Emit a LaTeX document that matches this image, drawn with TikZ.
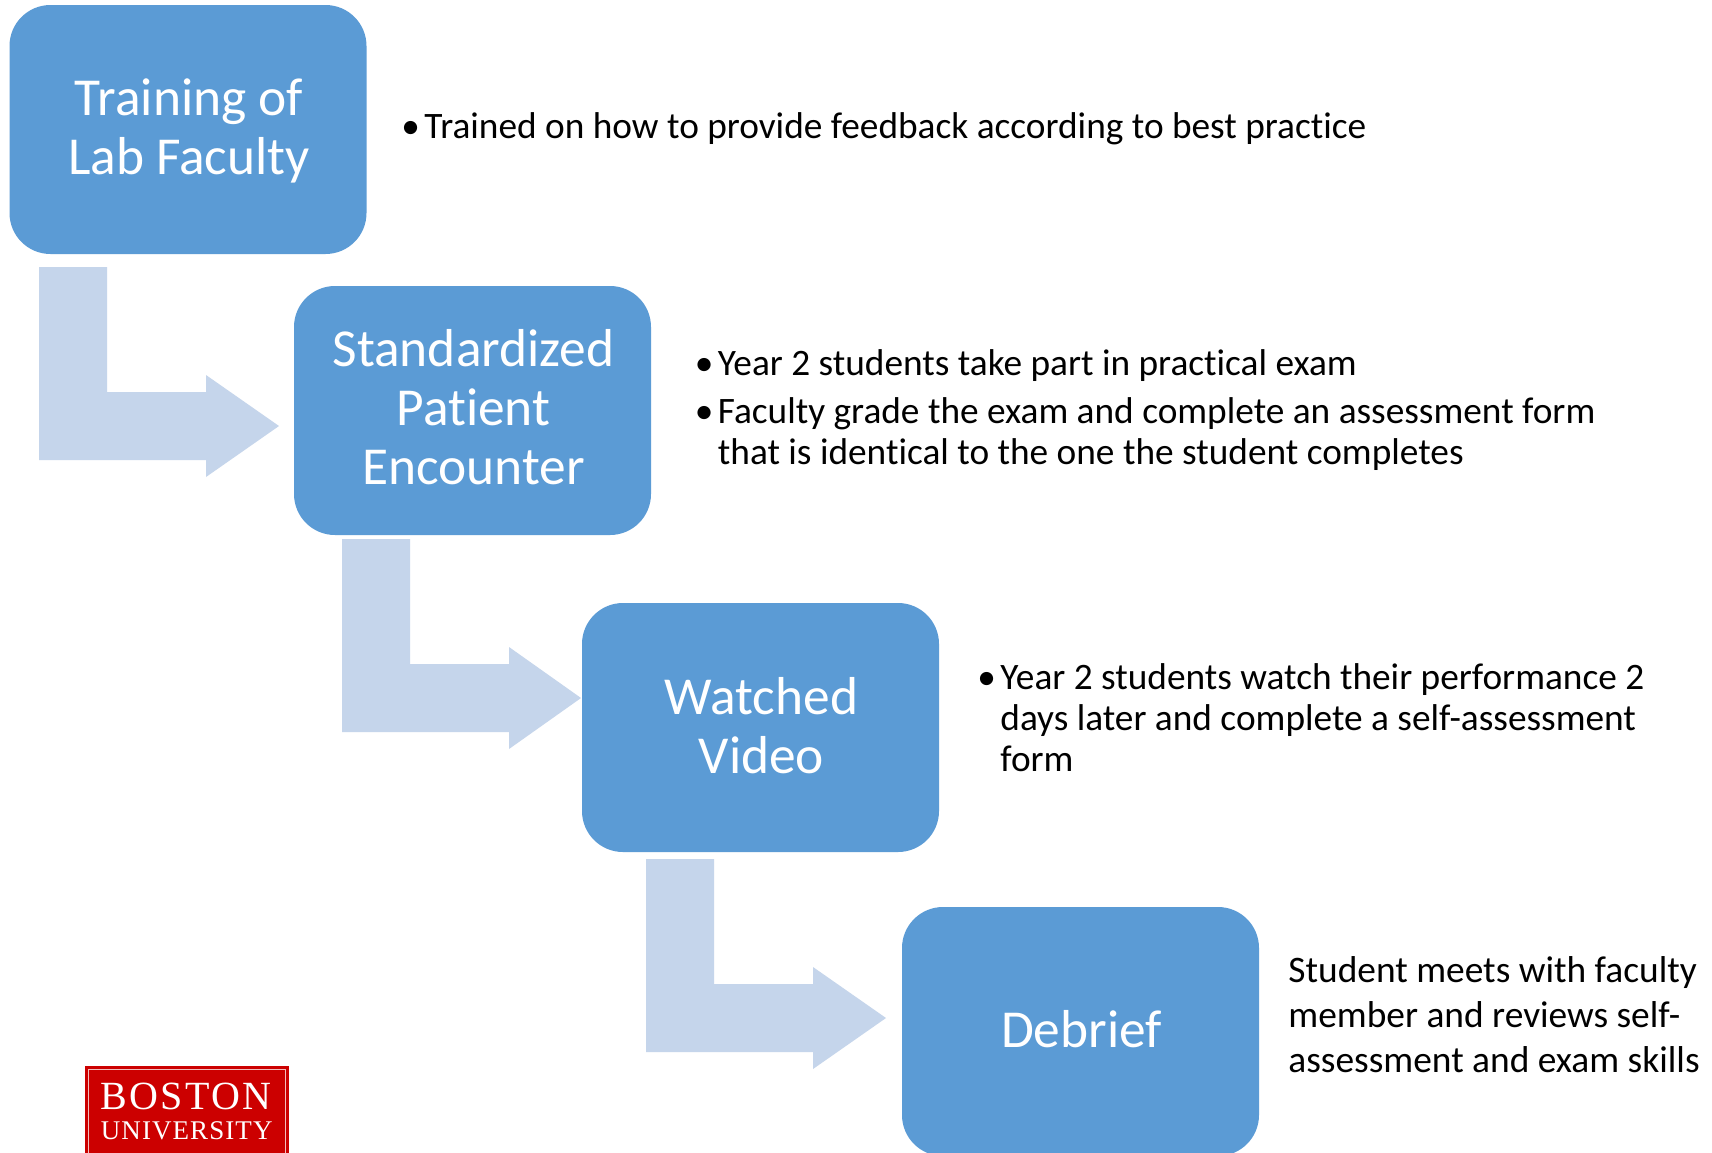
\documentclass[tikz,border=0pt]{standalone}
\usepackage{fontspec}
\setmainfont{Carlito}[Ligatures=CommonOff]
\newfontfamily\logofontA{Liberation Serif}[LetterSpace=6]
\newfontfamily\logofontB{Liberation Serif}[LetterSpace=4]
\definecolor{boxblue}{HTML}{5B9BD5}
\definecolor{arrowblue}{HTML}{C5D5EB}
\definecolor{bured}{HTML}{CC0000}
\definecolor{burule}{HTML}{F2BDBD}
\newcommand{\bl}{\makebox[11.5pt][l]{•}}
\newcommand{\blsp}{\hspace*{11.5pt}}
% last baseline placed dy below the centre of the box
\newcommand{\boxlabel}[2]{\hspace*{1pt}\raisebox{-#1}[0pt][0pt]{\begin{tabular}[b]{@{}c@{}}#2\end{tabular}}}
\tikzset{
  stagebox/.style={draw=none,fill=boxblue,rounded corners=20.5pt,minimum width=178.5pt,minimum height=124.5pt,inner sep=0pt,text=white,align=center,font=\fontsize{26.7}{29.4}\selectfont},
  bent/.style={fill=arrowblue,draw=none},
  note/.style={anchor=base west,inner sep=0pt,align=left,text=black,font=\fontsize{18.66}{20.5}\selectfont},
  notewide/.style={note,font=\fontsize{18.7}{22.5}\selectfont},
}
\begin{document}
\begin{tikzpicture}[x=0.5pt,y=-0.5pt]
\path[use as bounding box,clip] (0,0) rectangle (1712,1152);
\fill[white] (0,0) rectangle (1712,1152);
\node[stagebox] (s1) at (188,129.5) {\boxlabel{22.25pt}{Training of\\Lab Faculty}};
\node[stagebox] (s2) at (472.5,410.5) {\boxlabel{37pt}{Standardized\\Patient\\Encounter}};
\node[stagebox] (s3) at (760.5,727.5) {\boxlabel{22.75pt}{Watched\\Video}};
\node[stagebox] (s4) at (1080.5,1031.5) {\boxlabel{7.75pt}{Debrief}};
\path[bent] (39,267) -- (107,267) -- (107,392) -- (206,392) -- (206,375) -- (279,426) -- (206,477) -- (206,460) -- (39,460) -- cycle;
\path[bent] (342,539) -- (410,539) -- (410,664) -- (509,664) -- (509,647) -- (581,698) -- (509,749) -- (509,732) -- (342,732) -- cycle;
\path[bent] (646,859) -- (714,859) -- (714,984) -- (813,984) -- (813,967) -- (886,1018) -- (813,1069) -- (813,1052) -- (646,1052) -- cycle;
\node[note] (n1) at (401,138) {\bl Trained on how to provide feedback according to best practice};
\node[note] (n2a) at (694.5,375) {\bl Year 2 students take part in practical exam};
\node[note] (n2b) at (694.5,464.5) {\bl Faculty grade the exam and complete an assessment form\\\blsp that is identical to the one the student completes};
\node[note] (n3) at (977,771.5) {\bl Year 2 students watch their performance 2\\\blsp days later and complete a self-assessment\\\blsp form};
\node[notewide] (n4) at (1288,1072.5) {Student meets with faculty\\member and reviews self-\\assessment and exam skills};
\node[fill=bured,minimum width=102pt,minimum height=60pt,anchor=north west,inner sep=0pt] (logo) at (85,1066) {};
\draw[burule,line width=0.9pt] (88.5,1069.5) rectangle (285.5,1200);
\node[anchor=base west,inner sep=0pt,text=white,font=\logofontA\fontsize{20}{20}\selectfont] (bu1) at (100,1109) {BOSTON};
\node[anchor=base west,inner sep=0pt,text=white,font=\logofontB\fontsize{13.5}{15}\selectfont] (bu2) at (100.5,1139) {UNIVERSITY};
\end{tikzpicture}
\end{document}
